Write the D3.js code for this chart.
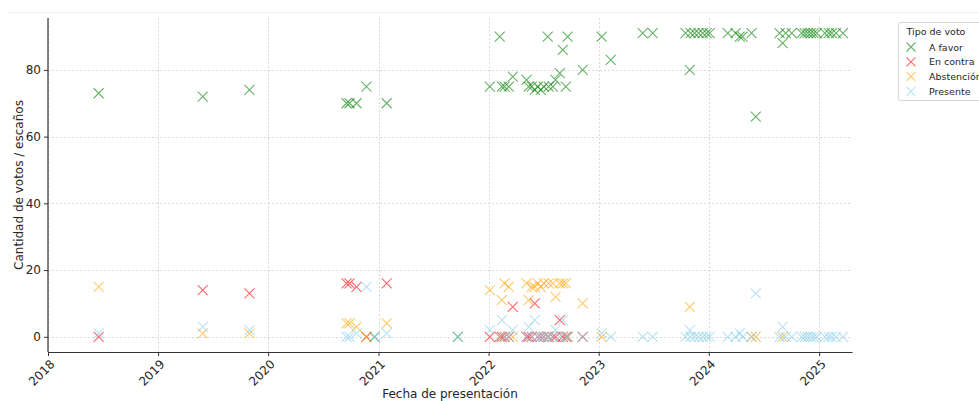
<!DOCTYPE html>
<html><head><meta charset="utf-8">
<script src="https://cdn.jsdelivr.net/npm/d3@7/dist/d3.min.js"></script>
<style>
body{margin:0;background:#fff;}
text{font-family:"DejaVu Sans",sans-serif;fill:#262626;}
</style></head><body>
<svg id="c" width="979" height="401"></svg>
<script>
// ---- data (null = no mark visible) ----
const dates = ["2018-06-18","2019-05-29","2019-10-31","2020-09-17","2020-09-27","2020-10-20","2020-11-22","2020-12-19","2021-01-28","2021-09-21",
"2022-01-05","2022-02-07","2022-02-14","2022-02-23","2022-03-09","2022-03-22","2022-05-07","2022-05-14","2022-05-24","2022-06-03",
"2022-06-13","2022-06-23","2022-07-03","2022-07-16","2022-07-19","2022-08-02","2022-08-11","2022-08-25","2022-09-04","2022-09-14",
"2022-09-20","2022-11-09","2023-01-11","2023-02-10","2023-05-27","2023-06-29","2023-10-16","2023-10-30","2023-11-02","2023-11-15",
"2023-11-28","2023-12-12","2023-12-25","2024-01-04","2024-03-04","2024-03-30","2024-04-13","2024-04-22","2024-05-22","2024-06-05",
"2024-08-23","2024-09-02","2024-09-12","2024-10-02","2024-11-04","2024-11-14","2024-11-24","2024-12-04","2024-12-14","2024-12-24",
"2025-01-20","2025-02-02","2025-02-12","2025-02-26","2025-03-21"];
const aFavor = [73,72,74,70,70,70,75,0,70,0,
75,90,75,75,75,78,77,75,75,74,
75,74,75,90,75,75,77,79,86,75,
90,80,90,83,91,91,91,80,91,91,
91,91,91,91,91,91,90,90,91,66,
91,88,91,91,91,91,91,91,91,91,
91,91,91,91,91];
const enContra = [0,14,13,16,16,15,0,null,16,null,
0,0,0,0,0,9,0,0,0,10,
0,0,0,0,0,0,0,5,0,0,
0,0,null,null,null,null,null,null,null,null,
null,null,null,null,null,null,null,null,null,null,
null,null,null,null,null,null,null,null,null,null,
null,null,null,null,null];
const abstencion = [15,1,1,4,4,3,0,null,4,null,
14,0,11,16,15,0,16,11,15,15,
16,15,16,0,16,16,12,16,16,16,
0,10,0,null,null,null,null,9,null,null,
null,null,null,null,null,null,null,null,0,0,
null,0,null,null,null,null,null,null,null,null,
null,null,null,null,null];
const presente = [1,3,2,0,0,1,15,0,1,0,
2,0,5,0,0,2,0,3,0,5,
0,0,0,0,0,0,2,0,5,0,
0,0,1,0,0,0,0,2,0,0,
0,0,0,0,0,0,1,0,0,13,
0,3,0,0,0,0,0,0,0,0,
0,0,0,0,0];
const seriesNames = ["A favor","En contra","Abstención","Presente"];
const seriesColors = ["#008000","#ff0000","#ffa500","#87ceeb"];
const yTicks = [0,20,40,60,80];
const xTickYears = [2018,2019,2020,2021,2022,2023,2024,2025];

const seriesValues = [aFavor,enContra,abstencion,presente];
const parse = d3.timeParse("%Y-%m-%d");
const svg = d3.select("#c");
const L=48,R=852,T=18,B=352;
const x = d3.scaleTime().domain([new Date(2018,0,1), new Date(2025,3,20)]).range([L,R]);
const y = d3.scaleLinear().domain([-4.55,95.55]).range([B,T]);

// faint figure top line
svg.append("line").attr("x1",8).attr("x2",979).attr("y1",12.5).attr("y2",12.5).attr("stroke","#f0f0f0");

// grid
const g = svg.append("g");
g.selectAll(".gy").data(yTicks).join("line").attr("x1",L).attr("x2",R)
 .attr("y1",d=>Math.round(y(d))+0.5).attr("y2",d=>Math.round(y(d))+0.5)
 .attr("stroke","#cfcfcf").attr("stroke-width",0.8).attr("stroke-dasharray","2,2");
g.selectAll(".gx").data(xTickYears).join("line")
 .attr("x1",d=>Math.round(x(new Date(d,0,1)))+0.5).attr("x2",d=>Math.round(x(new Date(d,0,1)))+0.5)
 .attr("y1",T).attr("y2",B).attr("stroke","#cfcfcf").attr("stroke-width",0.8).attr("stroke-dasharray","2,2");

// axes
const xAxis = d3.axisBottom(x).tickValues(xTickYears.map(v=>new Date(v,0,1))).tickFormat(d3.timeFormat("%Y")).tickSize(4).tickSizeOuter(0);
const xa = svg.append("g").attr("transform",`translate(0,${B})`).call(xAxis);
xa.select(".domain").attr("stroke","#333").attr("stroke-width",1.2);
xa.selectAll(".tick line").attr("stroke","#333");
xa.selectAll("text").attr("font-size",12).attr("fill","#262626").attr("font-family","DejaVu Sans")
 .attr("text-anchor","end").attr("dy",0).attr("transform","translate(2,8) rotate(-45)");
const yAxis = d3.axisLeft(y).tickValues(yTicks).tickSize(4).tickSizeOuter(0);
const ya = svg.append("g").attr("transform",`translate(${L},0)`).call(yAxis);
ya.select(".domain").attr("stroke","#333").attr("stroke-width",1.2).attr("d",`M0,${T}V${B}`);
ya.selectAll(".tick line").attr("stroke","#333");
ya.selectAll("text").attr("font-size",12).attr("fill","#262626").attr("font-family","DejaVu Sans").attr("x",-7);

svg.append("text").attr("x",450).attr("y",398).attr("text-anchor","middle").attr("font-size",12).text("Fecha de presentación");
svg.append("text").attr("transform","translate(23,185) rotate(-90)").attr("text-anchor","middle").attr("font-size",12).text("Cantidad de votos / escaños");

// markers
const s = 5;
const xPath = (cx,cy)=>`M${cx-s},${cy-s}L${cx+s},${cy+s}M${cx-s},${cy+s}L${cx+s},${cy-s}`;
seriesValues.forEach((vals,i)=>{
  svg.append("g").selectAll("path")
   .data(dates.map((d,j)=>({d:parse(d),v:vals[j]})).filter(p=>p.v!==null))
   .join("path").attr("d",p=>xPath(x(p.d),y(p.v)))
   .attr("stroke",seriesColors[i]).attr("stroke-opacity",0.6).attr("stroke-width",1.1).attr("fill","none");
});

// legend
const lg = svg.append("g");
lg.append("rect").attr("x",898.5).attr("y",22.5).attr("width",100).attr("height",78).attr("rx",2)
 .attr("fill","#fff").attr("stroke","#d6d6d6");
lg.append("text").attr("x",936).attr("y",35).attr("text-anchor","middle").attr("font-size",9.5).text("Tipo de voto");
seriesNames.forEach((n,i)=>{
  const yy = 47+i*14.8;
  lg.append("path").attr("d",`M${911-4.5},${yy-4.5}L${911+4.5},${yy+4.5}M${911-4.5},${yy+4.5}L${911+4.5},${yy-4.5}`)
   .attr("stroke",seriesColors[i]).attr("stroke-opacity",0.6).attr("stroke-width",1.1);
  lg.append("text").attr("x",929).attr("y",yy+3.5).attr("font-size",9.5).text(n);
});
</script></body></html>
